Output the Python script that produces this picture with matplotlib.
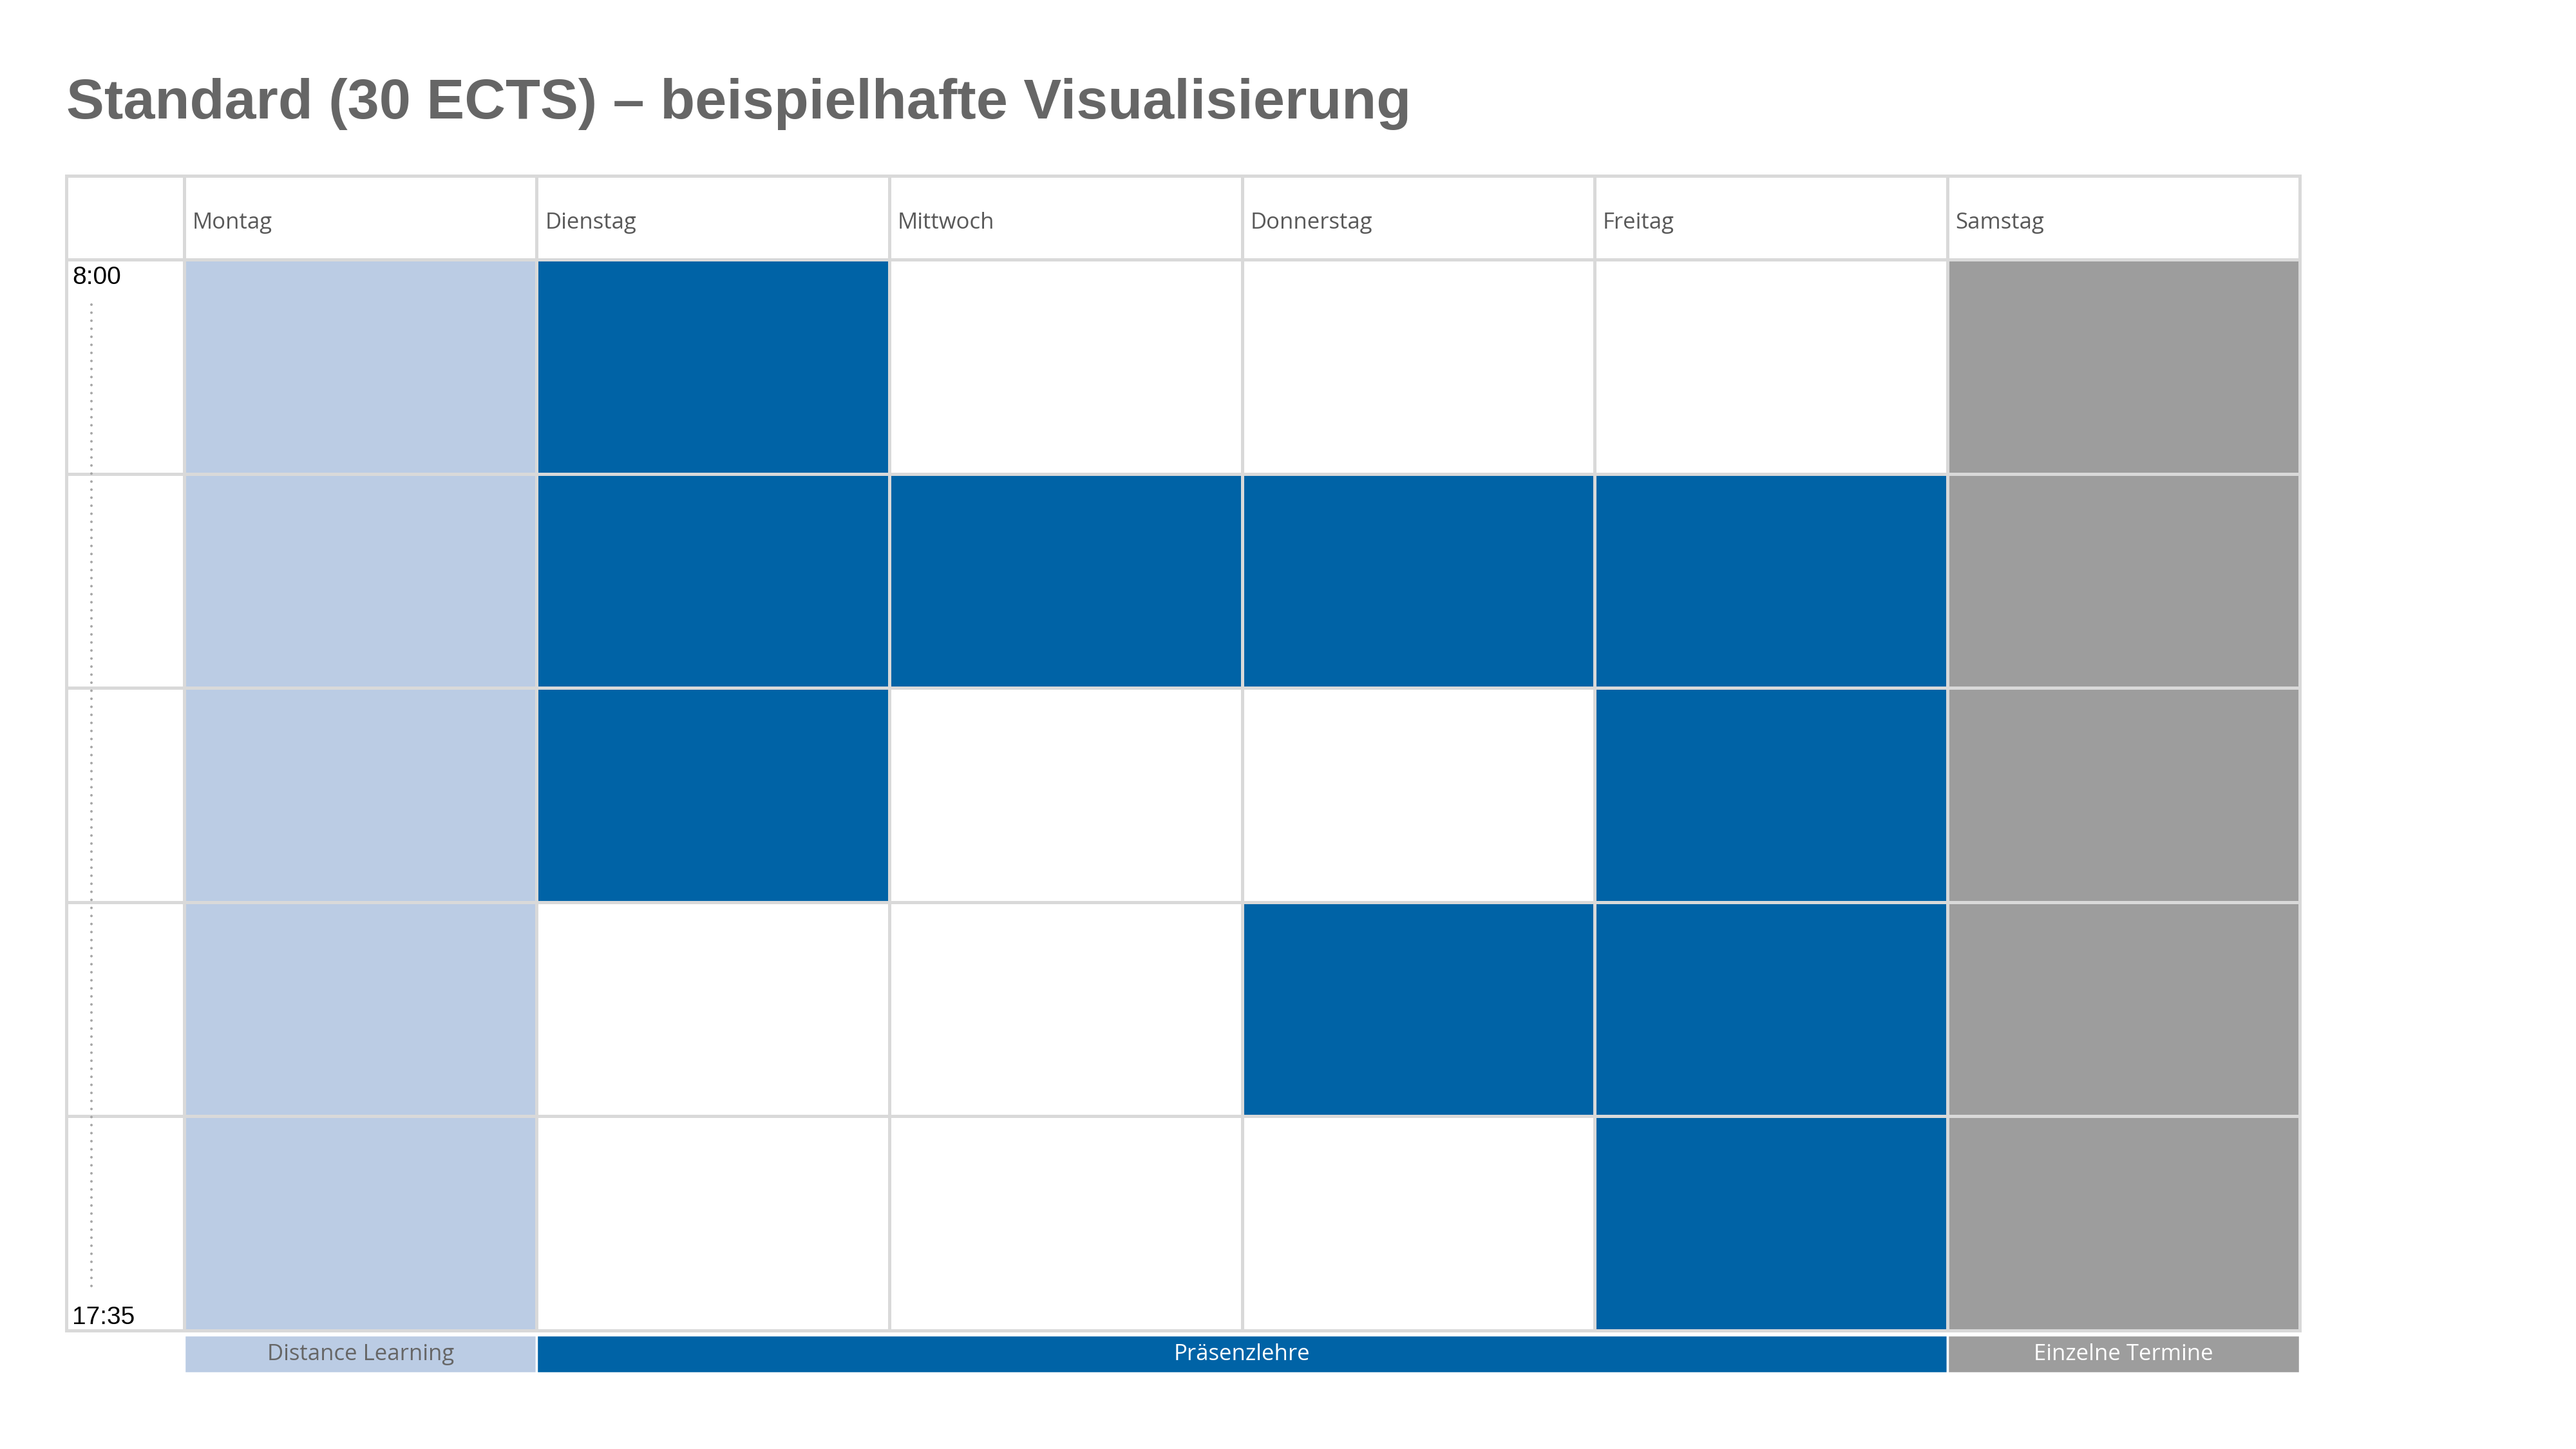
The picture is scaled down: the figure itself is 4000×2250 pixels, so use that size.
import matplotlib
matplotlib.use("Agg")
import matplotlib.pyplot as plt
from matplotlib.patches import Rectangle
import numpy as np

# ---------------- data ----------------
title = "Standard (30 ECTS) – beispielhafte Visualisierung"
days = ["Montag", "Dienstag", "Mittwoch", "Donnerstag", "Freitag", "Samstag"]
time_start = "8:00"
time_end = "17:35"
# category per (slot row, day column): 0 = frei, 1 = Distance Learning, 2 = Präsenzlehre, 3 = Einzelne Termine
schedule = [
    [1, 2, 0, 0, 0, 3],
    [1, 2, 2, 2, 2, 3],
    [1, 2, 0, 0, 2, 3],
    [1, 0, 0, 2, 2, 3],
    [1, 0, 0, 0, 2, 3],
]
category_labels = {1: "Distance Learning", 2: "Präsenzlehre", 3: "Einzelne Termine"}

# ---------------- style ----------------
colors = {0: "#FFFFFF", 1: "#BBCCE4", 2: "#0063A6", 3: "#9D9D9D"}
legend_text_colors = {1: "#666666", 2: "#FFFFFF", 3: "#FFFFFF"}
grid_color = "#D9D9D9"
W, H, DPI = 4000, 2250, 100

fig = plt.figure(figsize=(W / DPI, H / DPI), dpi=DPI)
fig.patch.set_facecolor("white")

# table layout in pixels
tbl_left, tbl_right = 103, 3571
tbl_top, tbl_bottom = 273, 2066
n_rows = len(schedule)
n_cols = len(days)
col_w = 547.5
row_h = (tbl_bottom - 403) / n_rows
time_w = (tbl_right - tbl_left) / col_w - n_cols      # time column in column units
head_h = (403 - tbl_top) / row_h                       # header in row units

ax = fig.add_axes([tbl_left / W, 1 - tbl_bottom / H,
                   (tbl_right - tbl_left) / W, (tbl_bottom - tbl_top) / H])
ax.set_xlim(-time_w, n_cols)
ax.set_ylim(n_rows, -head_h)
ax.axis("off")

data = np.array(schedule)

# cells
for r in range(n_rows):
    for c in range(n_cols):
        ax.add_patch(Rectangle((c, r), 1, 1, facecolor=colors[data[r, c]],
                               edgecolor="none", zorder=1))

# grid lines
lw = 3.6
for c in range(n_cols + 1):
    ax.plot([c, c], [-head_h, n_rows], color=grid_color, lw=lw, zorder=3,
            solid_capstyle="projecting", clip_on=False)
ax.plot([-time_w, -time_w], [-head_h, n_rows], color=grid_color, lw=lw, zorder=3,
        solid_capstyle="projecting", clip_on=False)
for r in range(n_rows + 1):
    ax.plot([-time_w, n_cols], [r, r], color=grid_color, lw=lw, zorder=3,
            solid_capstyle="projecting", clip_on=False)
ax.plot([-time_w, n_cols], [-head_h, -head_h], color=grid_color, lw=lw, zorder=3,
        solid_capstyle="projecting", clip_on=False)

# day headers
head_base = -head_h + (355 - tbl_top) / row_h
for c, d in enumerate(days):
    ax.text(c + 13 / col_w, head_base, d, family="Open Sans", fontsize=25,
            color="#595959", ha="left", va="baseline", zorder=4)

# time labels
ax.text(-time_w + 9 / col_w, 0.03, time_start, family="Liberation Sans",
        fontsize=28, color="black", ha="left", va="top", zorder=4)
ax.text(-time_w + 9 / col_w, n_rows - 0.03, time_end, family="Liberation Sans",
        fontsize=28, color="black", ha="left", va="baseline", zorder=4)
dot_x = -time_w + 39 / col_w
ax.plot([dot_x, dot_x], [0.21, n_rows - 0.19], color="#A6A6A6", lw=2.9,
        linestyle=(0, (0.001, 3.1)), dash_capstyle="round", zorder=4)

# legend bars below the table
leg_top = n_rows + 7 / row_h
leg_h = 59 / row_h
for cat, label in category_labels.items():
    cols_with = np.where((data == cat).any(axis=0))[0]
    c0, c1 = cols_with.min(), cols_with.max() + 1
    ax.add_patch(Rectangle((c0, leg_top), c1 - c0, leg_h, facecolor=colors[cat],
                           edgecolor="white", lw=2.5, clip_on=False, zorder=2))
    ax.text((c0 + c1) / 2, leg_top + leg_h / 2, label, family="Open Sans",
            fontsize=25, color=legend_text_colors[cat], ha="center", va="center",
            clip_on=False, zorder=4)

# title
fig.text(103 / W, 1 - 184 / H, title, family="Liberation Sans", fontweight="bold",
         fontsize=63.5, color="#666666", ha="left", va="baseline")

fig.savefig("out.png", dpi=DPI, facecolor="white")
